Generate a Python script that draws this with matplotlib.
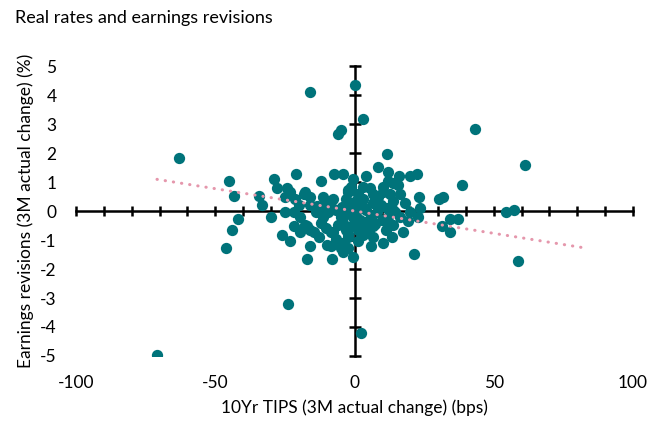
import numpy as np
import matplotlib
matplotlib.use("Agg")
import matplotlib.pyplot as plt

# 3M change in 10Yr TIPS yield (bps) vs 3M change in earnings revisions (%)
tips_change = [
    -70.9, -63.0, -15.8, 0.0, 3.2, -5.8, -4.7, 43.2, 61.2, 38.5,
    57.2, 54.3, 58.6, 2.2, -23.7, -46.0, -45.0, -43.2, -41.7, -43.9,
    -34.2, -33.1, -29.9, -28.8, -20.9, -11.9, -7.2, -4.0, -27.7, -24.1,
    -23.0, -21.9, -24.8, -17.6, -15.8, -11.2, -13.3, -25.9, -23.0, -19.4,
    -15.8, -14.7, -8.6, -15.8, -9.7, -4.0, -2.2, -0.4, -2.2, -3.2,
    -2.5, -7.6, -9.7, -5.0, -0.4, -4.0, -11.2, -17.6, -12.2, -16.9,
    -7.9, -4.0, -0.7, -21.9, -16.9, -19.4, 11.5, 8.3, 12.2, 4.3,
    15.8, 20.1, 22.3, 3.2, 5.4, 10.1, 10.4, 13.7, 15.5, 23.0,
    30.2, 31.7, 18.3, 23.4, 14.0, 13.7, 11.5, 6.8, 2.9, -2.5,
    34.2, 37.1, 31.3, 34.2, 20.1, 22.7, 19.1, 17.3, 13.7, 6.8,
    3.2, -7.6, 5.8, 10.1, -8.6, 21.2, 13.3, 3.2, -5.0, -2.5,
    2.2, -24.8, -21.2, -18.3, -1.4, 11.9, 12.2, 16.5, -1.4, 0.7,
    2.2, 4.3, 5.8, 7.9, 9.4, 6.5, 8.6, 1.1, -0.7, 1.4,
    -3.2, -5.8, -6.5, -9.4, -14.0, -15.8, -11.5, 4.3, 11.2, 14.7,
    16.5, 12.9, 12.2, 6.5, 1.1, -2.2, -6.5, -12.9, -10.4, -20.1,
    -3.0, 1.8, 4.9, -1.0, 7.2, -8.0, 0.4, 3.6, -4.4, 9.8,
]
eps_revision = [
    -4.98, 1.84, 4.12, 4.33, 3.19, 2.64, 2.78, 2.84, 1.57, 0.88,
    0.05, -0.05, -1.74, -4.22, -3.19, -1.29, 1.02, 0.53, -0.26, -0.64,
    0.53, 0.19, -0.22, 1.09, 1.29, 1.02, 1.26, 1.26, 0.81, 0.81,
    0.64, -0.02, -0.05, 0.64, 0.50, 0.50, 0.16, -0.84, -1.02, -0.19,
    -0.64, -0.74, -0.71, -1.22, -1.16, -1.09, -0.81, 1.09, 0.67, 0.40,
    0.05, 0.40, 0.29, -0.19, -0.22, -0.40, -0.19, -0.47, -0.40, -1.64,
    -1.64, -1.43, -1.57, -0.53, -0.53, -0.71, 1.98, 1.53, 1.36, 1.19,
    1.19, 1.22, 1.29, 0.84, 0.78, 0.84, 0.64, 0.98, 0.91, 0.50,
    0.43, 0.50, 0.26, 0.09, 0.33, 0.05, 0.09, 0.29, 0.40, 0.74,
    -0.26, -0.26, -0.50, -0.71, -0.05, -0.19, -0.36, -0.71, -0.47, -0.53,
    -0.40, -0.74, -1.22, -1.09, -1.22, -1.47, -0.91, -0.84, -1.26, -0.91,
    -0.53, 0.50, 0.40, 0.57, 0.84, 1.02, -0.22, -0.22, 0.22, -0.02,
    0.22, 0.05, -0.19, -0.02, 0.22, 0.57, 0.47, 0.57, -0.47, -0.64,
    -0.64, -0.47, 0.05, -0.02, -0.05, 0.22, 0.16, -0.74, -0.64, -0.05,
    0.57, 0.57, -0.47, -0.88, -1.05, -1.26, -0.98, -0.91, -0.57, 0.22,
    -0.10, -0.30, -0.35, -0.05, -0.45, 0.10, 0.35, 0.10, 0.15, -0.30,
]

# linear trendline fitted on the full sample, carried forward past the last point
trend_slope = -0.0154
trend_intercept = 0.0
trend_forecast_to = 82

plt.rcParams['font.family'] = ['Lato', 'DejaVu Sans']
plt.rcParams['axes.unicode_minus'] = False

x = np.array(tips_change)
y = np.array(eps_revision)

fig = plt.figure(figsize=(6.51, 4.21), dpi=100)
ax = fig.add_axes([0.1167, 0.1544, 0.8557, 0.6888])

ax.scatter(x, y, s=66, color='#00737A', linewidths=0, zorder=3)

xt = np.array([x.min(), trend_forecast_to])
ax.plot(xt, trend_slope * xt + trend_intercept, color='#E597AC', lw=2.2,
        linestyle=(0, (0.1, 2.6)), dash_capstyle='round', zorder=4)

ax.set_xlim(-100, 100)
ax.set_ylim(-5, 5)

# axes crossing at the origin
for side in ['top', 'right']:
    ax.spines[side].set_visible(False)
for side in ['left', 'bottom']:
    ax.spines[side].set_position(('data', 0))
    ax.spines[side].set_linewidth(1.8)
    ax.spines[side].set_zorder(2)
ax.set_xticks(np.arange(-100, 101, 10))
ax.set_yticks(np.arange(-5, 6, 1))
ax.tick_params(axis='x', direction='inout', length=7, width=1.8,
               labelbottom=False)
ax.tick_params(axis='y', direction='inout', length=9, width=1.8,
               labelleft=False)

# tick labels sit on the outer edge of the plot
secx = ax.secondary_xaxis('bottom')
secx.set_xticks([-100, -50, 0, 50, 100])
secx.spines['bottom'].set_visible(False)
secx.tick_params(length=0, pad=14, labelsize=12.5)
secx.set_xlabel('10Yr TIPS (3M actual change) (bps)', fontsize=12.5,
                labelpad=6)

secy = ax.secondary_yaxis('left')
secy.set_yticks(np.arange(-5, 6, 1))
secy.spines['left'].set_visible(False)
secy.tick_params(length=0, pad=14, labelsize=12.5)
secy.set_ylabel('Earnings revisions (3M actual change) (%)', fontsize=12.5,
                labelpad=4)

fig.text(0.023, 0.957, 'Real rates and earnings revisions', fontsize=13,
         ha='left', va='center')

fig.savefig('out.png', dpi=100)
